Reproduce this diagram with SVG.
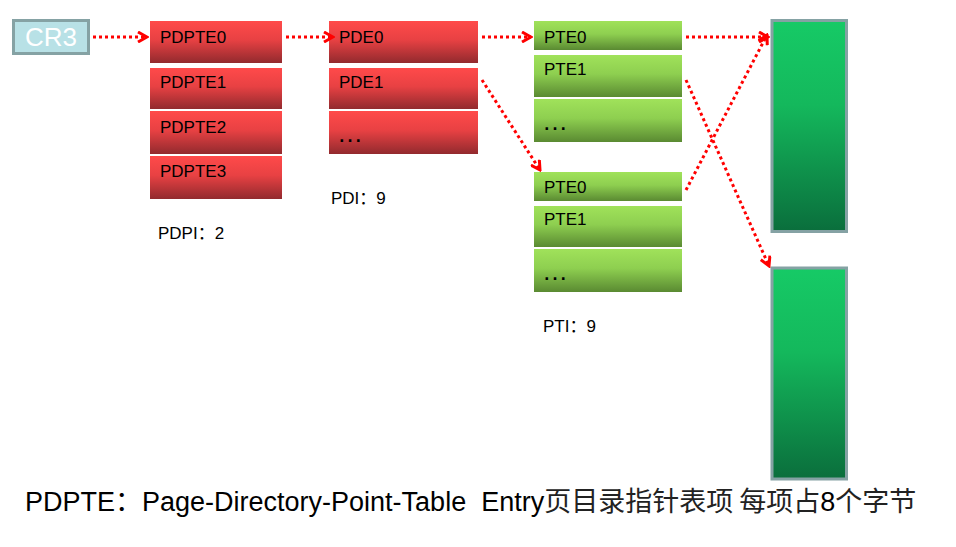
<svg xmlns="http://www.w3.org/2000/svg" width="956" height="547" viewBox="0 0 956 547">
<defs>
<linearGradient id="gRed" x1="0" y1="0" x2="0" y2="1">
<stop offset="0" stop-color="#FF4A4A"/>
<stop offset="0.45" stop-color="#E84143"/>
<stop offset="1" stop-color="#922A2E"/>
</linearGradient>
<linearGradient id="gLime" x1="0" y1="0" x2="0" y2="1">
<stop offset="0" stop-color="#A0E25A"/>
<stop offset="0.45" stop-color="#8ECF50"/>
<stop offset="1" stop-color="#5A8A32"/>
</linearGradient>
<linearGradient id="gPage" x1="0" y1="0" x2="0" y2="1">
<stop offset="0" stop-color="#16CA66"/>
<stop offset="0.4" stop-color="#14B85C"/>
<stop offset="1" stop-color="#0A6E3C"/>
</linearGradient>
<marker id="arr" viewBox="0 0 12 12" refX="10" refY="6" markerWidth="12" markerHeight="12" markerUnits="userSpaceOnUse" orient="auto">
<path d="M1,1 L10,6 L1,11" fill="none" stroke="#FF0000" stroke-width="3" stroke-linejoin="miter"/>
</marker>
<style>
.red{fill:url(#gRed);}
.lime{fill:url(#gLime);}
.page{fill:url(#gPage);stroke:#85A2A4;stroke-width:3;}
.t{font-family:"Liberation Sans",Arial,sans-serif;font-size:17px;fill:#000;}
.dots{font-family:"Liberation Sans",Arial,sans-serif;font-size:26px;fill:#000;}
.lbl{font-family:"Liberation Sans","Noto Sans CJK SC",sans-serif;font-size:17px;fill:#000;}
.con{fill:none;stroke:#FF0000;stroke-width:3;stroke-dasharray:3 3;marker-end:url(#arr);}
</style>
</defs>

<g id="cr3">
<rect x="13.5" y="20.5" width="75" height="33" fill="#B8E1E6" stroke="#85A2A4" stroke-width="3"/>
<text x="51" y="45.5" text-anchor="middle" font-family="'Liberation Sans',Arial,sans-serif" font-size="26" fill="#FFFFFF">CR3</text>
</g>

<g id="pdpt">
<g id="pdpte0"><rect class="red" x="150" y="21" width="132" height="42"/><text class="t" x="160" y="42.5">PDPTE0</text></g>
<g id="pdpte1"><rect class="red" x="150" y="68" width="132" height="41"/><text class="t" x="160" y="87.5">PDPTE1</text></g>
<g id="pdpte2"><rect class="red" x="150" y="111" width="132" height="43"/><text class="t" x="160" y="132.5">PDPTE2</text></g>
<g id="pdpte3"><rect class="red" x="150" y="156" width="132" height="43"/><text class="t" x="160" y="177">PDPTE3</text></g>
</g>

<g id="pd">
<g id="pde0"><rect class="red" x="329" y="21" width="149" height="42"/><text class="t" x="339" y="42.5">PDE0</text></g>
<g id="pde1"><rect class="red" x="329" y="68" width="149" height="41"/><text class="t" x="339" y="87.5">PDE1</text></g>
<g id="pdex"><rect class="red" x="329" y="111" width="149" height="43"/><text class="dots" x="337" y="142">…</text></g>
</g>

<g id="pt1">
<g id="pt1-pte0"><rect class="lime" x="534" y="21" width="148" height="29"/><text class="t" x="544" y="42.5">PTE0</text></g>
<g id="pt1-pte1"><rect class="lime" x="534" y="55" width="148" height="42"/><text class="t" x="544" y="74.5">PTE1</text></g>
<g id="pt1-x"><rect class="lime" x="534" y="99" width="148" height="43"/><text class="dots" x="542" y="130">…</text></g>
</g>

<g id="pt2">
<g id="pt2-pte0"><rect class="lime" x="534" y="172" width="148" height="29"/><text class="t" x="544" y="193">PTE0</text></g>
<g id="pt2-pte1"><rect class="lime" x="534" y="206" width="148" height="41"/><text class="t" x="544" y="224.5">PTE1</text></g>
<g id="pt2-x"><rect class="lime" x="534" y="249" width="148" height="43"/><text class="dots" x="542" y="280">…</text></g>
</g>

<g id="page1"><rect class="page" x="772" y="20.5" width="74.5" height="211"/></g>
<g id="page2"><rect class="page" x="772" y="268" width="74.5" height="211"/></g>

<g id="labels">
<text class="lbl" x="158" y="238.5">PDPI：2</text>
<text class="lbl" x="331" y="203.5">PDI：9</text>
<text class="lbl" x="543" y="331.5">PTI：9</text>
</g>

<g id="connectors">
<line class="con" x1="93" y1="37" x2="147" y2="37"/>
<line class="con" x1="286" y1="37" x2="333" y2="37"/>
<line class="con" x1="482" y1="37" x2="531" y2="37"/>
<line class="con" x1="482" y1="80" x2="540" y2="170"/>
<line class="con" x1="686" y1="37" x2="768" y2="37"/>
<line class="con" x1="686" y1="190" x2="767" y2="35"/>
<line class="con" x1="686" y1="80" x2="769" y2="266"/>
</g>

<g id="caption">
<text x="25" y="510.5" xml:space="preserve" font-family="'Liberation Sans','Noto Sans CJK SC',sans-serif" font-size="27" fill="#000">PDPTE：Page-Directory-Point-Table  Entry<tspan font-family="'Noto Sans CJK SC',sans-serif" fill="#222">页目录指针表项 每项占</tspan>8<tspan font-family="'Noto Sans CJK SC',sans-serif" fill="#222">个字节</tspan></text>
</g>
</svg>
